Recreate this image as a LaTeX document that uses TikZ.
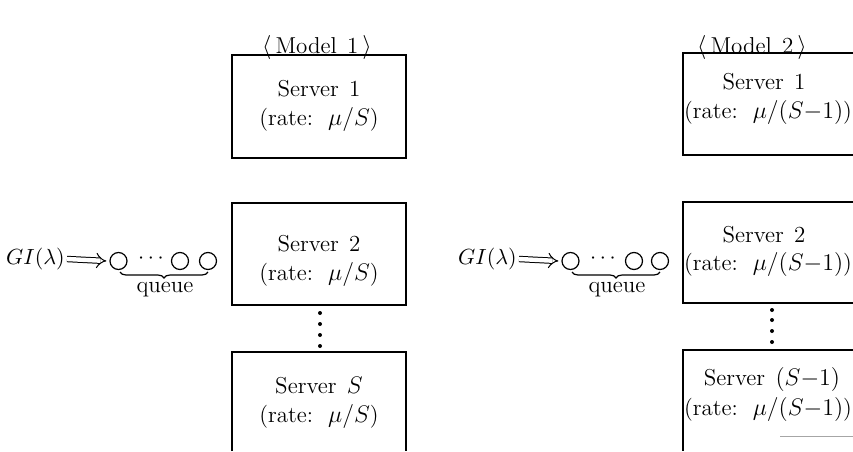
\documentclass[tikz,border=0pt]{standalone}
\usetikzlibrary{decorations.pathreplacing,arrows.meta}
\newcommand{\srvgap}{\hspace{0.45em}}
\newcommand{\rategap}{\hspace{0.65em}}
\begin{document}
\begin{tikzpicture}[x=0.5pt,y=-0.5pt,
  lbl/.style={inner sep=0pt, font=\fontsize{11.5}{13}\selectfont},
  mlbl/.style={inner sep=0pt, font=\fontsize{11}{13}\selectfont},
  boxline/.style={line width=0.6pt},
  qcirc/.style={circle, draw, line width=0.6pt, minimum size=8.5pt, inner sep=0pt},
  vdot/.style={fill, circle, inner sep=0pt, minimum size=2pt},
  qbrace/.style={decorate, decoration={brace, mirror, amplitude=3pt}, line width=0.6pt},
  dbl/.style={double, double distance=2.2pt, line width=0.5pt, -{Implies[scale=1.4]}}]
\useasboundingbox (0,0) rectangle (853,451);
% ---------- Model 1 ----------
\node[lbl] (m1) at (317,47) {$\langle\,$Model\srvgap 1$\,\rangle$};
\draw[boxline] (232,55) rectangle (406,158);
\draw[boxline] (232,203) rectangle (406,305);
\draw[boxline] (232,451) -- (232,352) -- (406,352) -- (406,451);
\node[lbl] (a1s) at (319,89) {Server\srvgap 1};
\node[lbl] (a1r) at (319,119) {(rate:\rategap$\mu/S$)};
\node[lbl] (a2s) at (319,244) {Server\srvgap 2};
\node[lbl] (a2r) at (319,274) {(rate:\rategap$\mu/S$)};
\node[lbl] (a3s) at (319,386) {Server\srvgap $S$};
\node[lbl] (a3r) at (319,416) {(rate:\rategap$\mu/S$)};
\foreach \y/\n in {313/1,324/2,335/3,346/4} \node[vdot] (ad\n) at (320,\y) {};
\node[mlbl, anchor=east] (agi) at (65,259) {$GI(\lambda)$};
\node[qcirc] (aq1) at (118.5,261) {};
\draw[dbl] ([xshift=1pt]agi.east) -- ([xshift=-1.5pt]aq1.west);
\node[mlbl] (aqd) at (151,259) {$\cdots$};
\node[qcirc] (aq2) at (180,261) {};
\node[qcirc] (aq3) at (208,261) {};
\coordinate (ab1) at (120,272);
\coordinate (ab2) at (208,272);
\draw[qbrace] (ab1) -- (ab2);
\node[lbl] (aqueue) at (165,290) {queue};
% ---------- Model 2 ----------
\node[lbl] (m2) at (752,47) {$\langle\,$Model\srvgap 2$\,\rangle$};
\draw[boxline] (853,53) -- (683,53) -- (683,155) -- (853,155);
\draw[boxline] (853,202) -- (683,202) -- (683,303) -- (853,303);
\draw[boxline] (853,350) -- (683,350) -- (683,451);
\draw[line width=0.5pt, black!35] (780,436) -- (853,436);
\node[lbl] (b1s) at (764,82) {Server\srvgap 1};
\node[lbl] (b1r) at (768,112) {(rate:\rategap$\mu/(S{-}1)$)};
\node[lbl] (b2s) at (764,235) {Server\srvgap 2};
\node[lbl] (b2r) at (768,264) {(rate:\rategap$\mu/(S{-}1)$)};
\node[lbl] (b3s) at (772,379) {Server\srvgap $(S{-}1)$};
\node[lbl] (b3r) at (768,409) {(rate:\rategap$\mu/(S{-}1)$)};
\foreach \y/\n in {310/1,320/2,331/3,342/4} \node[vdot] (bd\n) at (772,\y) {};
\node[mlbl, anchor=east] (bgi) at (517,259) {$GI(\lambda)$};
\node[qcirc] (bq1) at (570.5,261) {};
\draw[dbl] ([xshift=1pt]bgi.east) -- ([xshift=-1.5pt]bq1.west);
\node[mlbl] (bqd) at (603,259) {$\cdots$};
\node[qcirc] (bq2) at (634,261) {};
\node[qcirc] (bq3) at (660,261) {};
\coordinate (bb1) at (572,272);
\coordinate (bb2) at (660,272);
\draw[qbrace] (bb1) -- (bb2);
\node[lbl] (bqueue) at (617,290) {queue};
\end{tikzpicture}
\end{document}
